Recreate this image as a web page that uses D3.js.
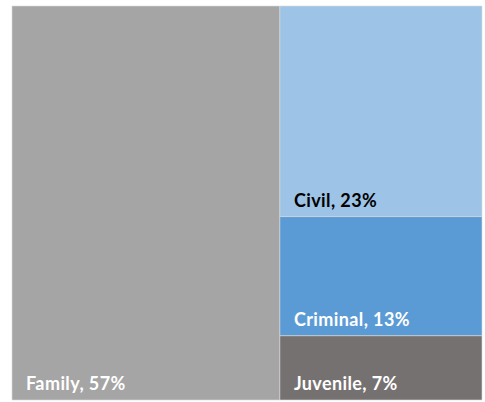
<!DOCTYPE html>
<html>
<head>
<meta charset="utf-8">
<script src="https://cdn.jsdelivr.net/npm/d3@7"></script>
<style>
  html, body { margin: 0; padding: 0; background: #fff; }
  svg { display: block; }
</style>
</head>
<body>
<svg id="chart" width="485" height="402"></svg>
<script>
const categories = ["Family", "Civil", "Criminal", "Juvenile"];
const values = [57, 23, 13, 7];
const colors = ["#a5a5a5", "#9dc3e6", "#5b9bd5", "#767171"];
const textColors = ["#ffffff", "#000000", "#ffffff", "#ffffff"];

const W = 485, H = 402;
const margin = { top: 6, right: 3, bottom: 2, left: 12 };

const data = {
  name: "root",
  children: [
    { name: categories[0], value: values[0], i: 0 },
    { name: "Other", children: categories.slice(1).map((c, k) => ({ name: c, value: values[k + 1], i: k + 1 })) }
  ]
};

const root = d3.hierarchy(data).sum(d => d.value || 0);
d3.treemap()
  .tile(d3.treemapSliceDice)
  .size([W - margin.left - margin.right, H - margin.top - margin.bottom])
  .round(false)(root);

const svg = d3.select("#chart");
const g = svg.append("g").attr("transform", `translate(${margin.left},${margin.top})`);

const leaves = g.selectAll("g.leaf").data(root.leaves()).join("g")
  .attr("class", "leaf")
  .attr("transform", d => `translate(${d.x0},${d.y0})`);

leaves.append("rect")
  .attr("width", d => d.x1 - d.x0)
  .attr("height", d => d.y1 - d.y0)
  .attr("fill", d => colors[d.data.i])
  .attr("stroke", "#d9d9d9")
  .attr("stroke-width", 0.6);

leaves.append("text")
  .attr("x", 14)
  .attr("y", d => d.y1 - d.y0 - 10)
  .attr("fill", d => textColors[d.data.i])
  .style("font-family", "Lato, 'Open Sans', sans-serif")
  .style("font-weight", "bold")
  .style("font-size", "18px")
  .style("letter-spacing", "0.4px")
  .text(d => `${d.data.name}, ${d.data.value}%`);
</script>
</body>
</html>
